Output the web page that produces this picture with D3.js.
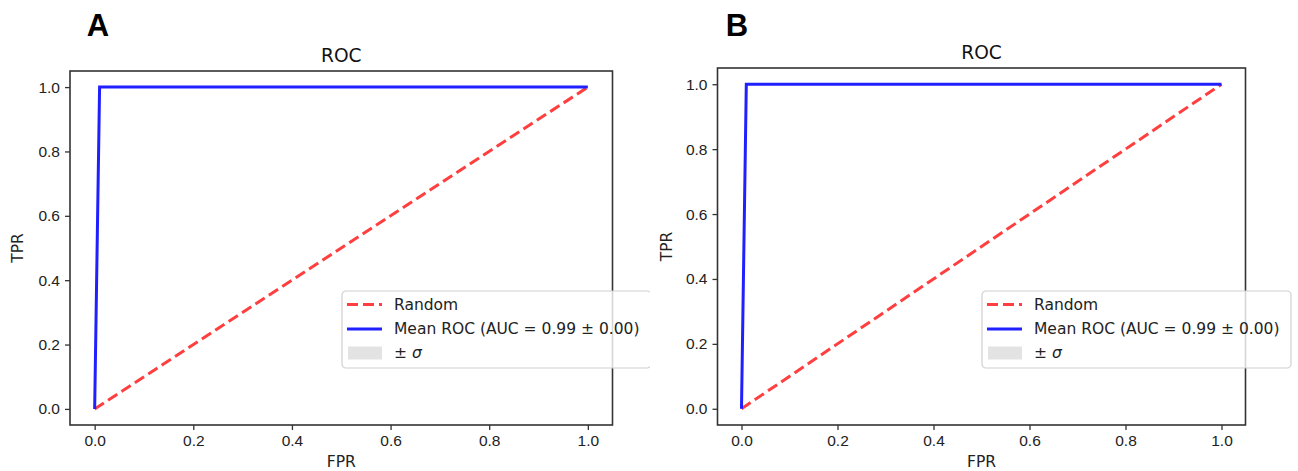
<!DOCTYPE html>
<html>
<head>
<meta charset="utf-8">
<script src="https://cdn.jsdelivr.net/npm/d3@7"></script>
<style>
  body { margin: 0; background: #fff; }
  svg { display: block; font-family: "DejaVu Sans", sans-serif; }
</style>
</head>
<body>
<svg id="chart" width="1298" height="471"></svg>
<script>
// data
let panelLetters = ["A", "B"];
let meanFpr = [0, 0.01, 1];
let meanTpr = [0, 1, 1];
let randomFpr = [0, 1];
let randomTpr = [0, 1];
let tickValues = [0, 0.2, 0.4, 0.6, 0.8, 1.0];
let legendLabels = ["Random", "Mean ROC (AUC = 0.99 \u00b1 0.00)", "\u00b1 \u03c3"];

// layout of each panel (pixels)
let panels = [
  { letter: panelLetters[0], left: 70, right: 612.5, top: 71, bottom: 425, legendX: 342, clipRight: 650, tprX: 18, letterX: 98 },
  { letter: panelLetters[1], left: 717.5, right: 1245.5, top: 68, bottom: 425, legendX: 982, clipRight: 1298, tprX: 667, letterX: 737 }
];

let svg = d3.select("#chart");

panels.forEach(function (p, i) {
  let clipId = "clip" + i;
  svg.append("clipPath").attr("id", clipId)
    .append("rect").attr("x", 0).attr("y", 0).attr("width", p.clipRight).attr("height", 471);

  let g = svg.append("g").attr("clip-path", "url(#" + clipId + ")");

  let x = d3.scaleLinear().domain([-0.05, 1.05]).range([p.left, p.right]);
  let y = d3.scaleLinear().domain([-0.05, 1.05]).range([p.bottom, p.top]);

  // axes
  let xAxis = g.append("g").attr("transform", "translate(0," + p.bottom + ")")
    .call(d3.axisBottom(x).tickValues(tickValues).tickFormat(d3.format(".1f")).tickSizeOuter(0).tickSize(5).tickPadding(5));
  let yAxis = g.append("g").attr("transform", "translate(" + p.left + ",0)")
    .call(d3.axisLeft(y).tickValues(tickValues).tickFormat(d3.format(".1f")).tickSizeOuter(0).tickSize(5).tickPadding(5));
  [xAxis, yAxis].forEach(function (a) {
    a.select(".domain").remove();
    a.selectAll(".tick line").attr("stroke", "#333").attr("stroke-width", 1.3);
    a.selectAll(".tick text").attr("fill", "#222").style("font-size", "15.5px");
  });

  // lines
  let line = d3.line().x(d => x(d[0])).y(d => y(d[1]));
  g.append("path")
    .datum(d3.zip(randomFpr, randomTpr))
    .attr("d", line)
    .attr("fill", "none")
    .attr("stroke", "#ff2a2a").attr("stroke-opacity", 0.9)
    .attr("stroke-width", 3)
    .attr("stroke-dasharray", "11,5");
  g.append("path")
    .datum(d3.zip(meanFpr, meanTpr))
    .attr("d", line)
    .attr("fill", "none")
    .attr("stroke", "#2020ff")
    .attr("stroke-width", 3);

  // frame
  g.append("rect")
    .attr("x", p.left).attr("y", p.top)
    .attr("width", p.right - p.left).attr("height", p.bottom - p.top)
    .attr("fill", "none").attr("stroke", "#333").attr("stroke-width", 1.6);

  // titles
  g.append("text").attr("x", (p.left + p.right) / 2).attr("y", p.top - 9)
    .attr("text-anchor", "middle").style("font-size", "18.6px").attr("fill", "#111").text("ROC");
  g.append("text").attr("x", (p.left + p.right) / 2).attr("y", 467)
    .attr("text-anchor", "middle").style("font-size", "15.5px").attr("fill", "#222").text("FPR");
  g.append("text")
    .attr("transform", "translate(" + (p.tprX + 5) + "," + ((p.top + p.bottom) / 2) + ") rotate(-90)")
    .attr("text-anchor", "middle").style("font-size", "15.5px").attr("fill", "#222").text("TPR");
  g.append("text").attr("x", p.letterX).attr("y", 36)
    .attr("text-anchor", "middle")
    .style("font-family", "'Liberation Sans', Arial, sans-serif")
    .style("font-weight", "bold").style("font-size", "31px").attr("fill", "#000")
    .text(p.letter);

  // legend
  let lg = g.append("g").attr("transform", "translate(" + p.legendX + ",291)");
  lg.append("rect").attr("width", 309).attr("height", 77).attr("rx", 4)
    .attr("fill", "#fff").attr("fill-opacity", 0.8)
    .attr("stroke", "#d0d0d0").attr("stroke-width", 1.2);
  let rowY = [13.5, 38, 62];
  lg.append("line").attr("x1", 5).attr("x2", 40).attr("y1", rowY[0]).attr("y2", rowY[0])
    .attr("stroke", "#ff2a2a").attr("stroke-opacity", 0.9).attr("stroke-width", 3).attr("stroke-dasharray", "11,5");
  lg.append("line").attr("x1", 5).attr("x2", 40).attr("y1", rowY[1]).attr("y2", rowY[1])
    .attr("stroke", "#2020ff").attr("stroke-width", 3);
  lg.append("rect").attr("x", 6).attr("y", rowY[2] - 6.5).attr("width", 34).attr("height", 13)
    .attr("fill", "#e3e3e3");
  legendLabels.forEach(function (t, k) {
    let txt = lg.append("text").attr("x", 52).attr("y", rowY[k]).attr("dy", "0.35em")
      .style("font-size", "15.5px").attr("fill", "#222");
    if (k === 2) {
      txt.append("tspan").text("\u00b1 ");
      txt.append("tspan").style("font-style", "italic").text("\u03c3");
    } else {
      txt.text(t);
    }
  });
});
</script>
</body>
</html>
